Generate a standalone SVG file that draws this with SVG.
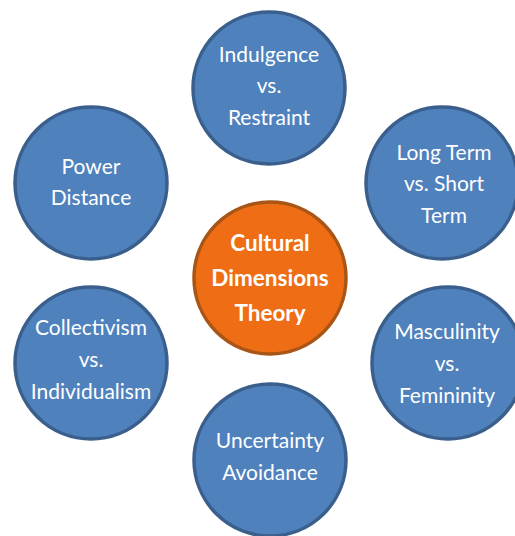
<svg xmlns="http://www.w3.org/2000/svg" width="515" height="536" viewBox="0 0 515 536">
<style>
.b{fill:#4F81BD;stroke:#3A5F8C;stroke-width:3.5}
.o{fill:#EE6D15;stroke:#A85516;stroke-width:3.5}
text{font-family:Lato,"Open Sans",sans-serif;font-size:21px;fill:#fff;text-anchor:middle}
.c{font-weight:bold;font-size:22.5px}
</style>
<g id="connectors"/>
<g id="n-indulgence"><circle class="b" cx="269" cy="88" r="76"/>
<text x="269" y="62">Indulgence</text><text x="269" y="93">vs.</text><text x="269" y="125">Restraint</text></g>
<g id="n-power"><circle class="b" cx="91" cy="183" r="76"/>
<text x="91" y="174">Power</text><text x="91" y="205">Distance</text></g>
<g id="n-longterm"><circle class="b" cx="442" cy="183" r="76"/>
<text x="444" y="160">Long Term</text><text x="444" y="191">vs. Short</text><text x="444" y="223">Term</text></g>
<g id="n-center"><circle class="o" cx="270" cy="278" r="76"/>
<text class="c" x="270" y="251">Cultural</text><text class="c" x="270" y="286">Dimensions</text><text class="c" x="270" y="321">Theory</text></g>
<g id="n-collectivism"><circle class="b" cx="91" cy="363" r="76"/>
<text x="91" y="335">Collectivism</text><text x="91" y="367">vs.</text><text x="91" y="399">Individualism</text></g>
<g id="n-masculinity"><circle class="b" cx="448" cy="363" r="76"/>
<text x="447" y="339">Masculinity</text><text x="447" y="371">vs.</text><text x="447" y="403">Femininity</text></g>
<g id="n-uncertainty"><circle class="b" cx="270" cy="460" r="76"/>
<text x="270" y="448">Uncertainty</text><text x="270" y="480">Avoidance</text></g>
</svg>
